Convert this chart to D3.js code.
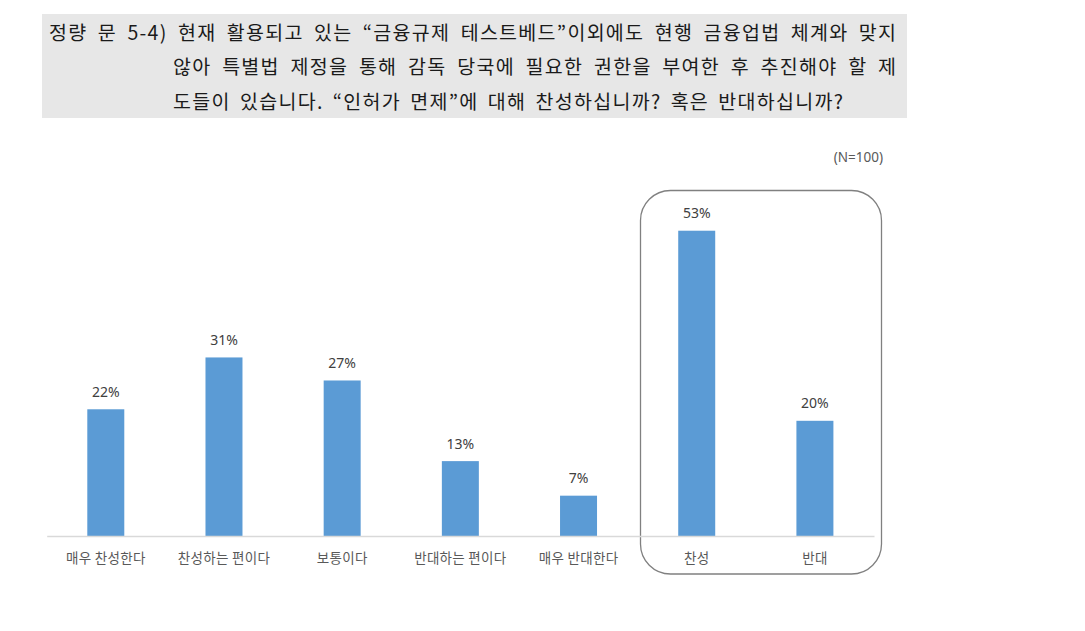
<!DOCTYPE html>
<html><head><meta charset="utf-8">
<script src="https://cdn.jsdelivr.net/npm/d3@7"></script>
<style>body{margin:0;background:#fff;}svg{display:block;}</style>
</head><body>
<svg id="c" width="1085" height="631"></svg>
<script>
const categories = ["매우 찬성한다","찬성하는 편이다","보통이다","반대하는 편이다","매우 반대한다","찬성","반대"];
const values = [22,31,27,13,7,53,20];
const titleLines = [
  "정량 문 5-4) 현재 활용되고 있는 “금융규제 테스트베드”이외에도 현행 금융업법 체계와 맞지",
  "않아 특별법 제정을 통해 감독 당국에 필요한 권한을 부여한 후 추진해야 할 제",
  "도들이 있습니다. “인허가 면제”에 대해 찬성하십니까? 혹은 반대하십니까?"
];
const sampleNote = "(N=100)";

const svg = d3.select("#c");
// title box
svg.append("rect").attr("x",42).attr("y",14).attr("width",865).attr("height",104).attr("fill","#e7e7e7");
const tl = [{x:49,y:40,w:847},{x:173,y:74,w:723},{x:173,y:109,w:670}];
const LS = 1.3;
svg.selectAll("text.title").data(titleLines).join("text").attr("class","title")
  .attr("x",(d,i)=>tl[i].x).attr("y",(d,i)=>tl[i].y)
  .attr("font-family","'Noto Sans CJK KR','Noto Sans',sans-serif").attr("font-size",19.5)
  .attr("fill","#1a1a1a").text(d=>d)
  .each(function(d,i){
    const nat = this.getComputedTextLength();
    const spaces = (d.match(/ /g)||[]).length;
    const n = d.length - 1;
    const ws = (tl[i].w - nat - LS*n)/spaces;
    d3.select(this).attr("letter-spacing",LS).attr("word-spacing",Math.max(0,ws));
  });

const x = d3.scaleBand().domain(categories).range([46.7,874]).paddingInner(0.687).paddingOuter(0.3435);
const y = d3.scaleLinear().domain([0,60]).range([536,190.4]);

// group box
svg.append("rect").attr("x",640.5).attr("y",190.5).attr("width",241).attr("height",383.5)
  .attr("rx",30).attr("ry",30).attr("fill","none").attr("stroke","#808080").attr("stroke-width",1.3);

svg.selectAll("rect.bar").data(values).join("rect").attr("class","bar")
  .attr("x",(d,i)=>x(categories[i])).attr("width",x.bandwidth())
  .attr("y",d=>y(d)).attr("height",d=>y(0)-y(d)).attr("fill","#5b9bd5");

const ax = svg.append("g").attr("transform","translate(0,536)")
  .call(d3.axisBottom(x).tickSize(0).tickPadding(17).tickSizeOuter(0));
ax.select(".domain").attr("stroke","#d9d9d9").attr("stroke-width",1.3);
ax.selectAll("text").attr("font-family","'Noto Sans CJK KR',sans-serif").attr("font-size",13.5)
  .attr("letter-spacing",0.3).attr("fill","#595959");

svg.selectAll("text.val").data(values).join("text").attr("class","val")
  .attr("x",(d,i)=>x(categories[i])+x.bandwidth()/2).attr("y",d=>y(d)-12.5)
  .attr("text-anchor","middle").attr("font-family","'Noto Sans',sans-serif").attr("font-size",14)
  .attr("fill","#404040").text(d=>d+"%");

svg.append("text").attr("x",883).attr("y",162).attr("text-anchor","end")
  .attr("font-family","'Noto Sans',sans-serif").attr("font-size",13.5).attr("fill","#595959").text(sampleNote);
</script>
</body></html>
